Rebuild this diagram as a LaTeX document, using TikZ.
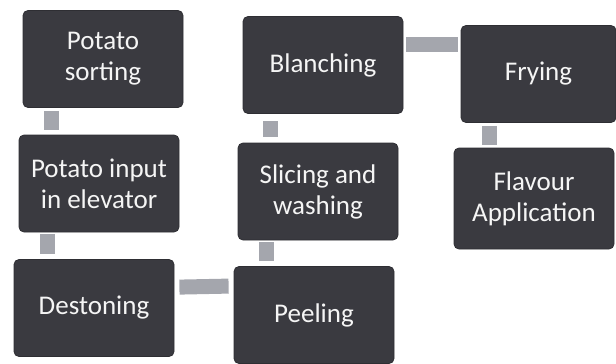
\documentclass[tikz,border=0pt]{standalone}
\usepackage{fontspec}
\setmainfont{Carlito}
\usepackage{tikz}
\usetikzlibrary{positioning}
\definecolor{boxgray}{HTML}{3A3A40}
\definecolor{bargray}{HTML}{A4A6AD}

\begin{document}
\begin{tikzpicture}[x=0.5pt, y=-0.5pt,
  box/.style={draw=boxgray!80!black, fill=boxgray, rounded corners=2.5pt,
              text=white!92!gray, align=center, inner sep=2pt,
              font=\fontsize{13.5}{15.5}\selectfont,
              minimum width=80pt, minimum height=48.5pt},
  bar/.style={draw=bargray, line width=7.5pt},
]
  \useasboundingbox (0,0) rectangle (616,364);
  % left column
  \node[box] (sort) at (103,59) {Potato\\ sorting};
  \node[box] (input) at (99,183.5) {Potato input\\ in elevator};
  \node[box] (dest) at (94,308) {Destoning};
  % middle column
  \node[box] (peel) at (314,315) {Peeling};
  \node[box] (slice) at (318,191.5) {Slicing and\\ washing};
  \node[box] (blanch) at (323,65) {Blanching};
  % right column
  \node[box, minimum width=77.5pt] (fry) at (538.5,74) {Frying};
  \node[box, minimum height=50.5pt] (flav) at (534,198.5) {Flavour\\ Application};
  % connectors
  \draw[bar] ([shift={(29,3)}]sort.south west) -- ([shift={(33,-5)}]input.north west);
  \draw[bar] ([shift={(29,2)}]input.south west) -- ([shift={(34,-5)}]dest.north west);
  \draw[bar] ([shift={(5,28)}]dest.north east) -- ([shift={(-5,20)}]peel.north west);
  \draw[bar] ([shift={(33,-5)}]peel.north west) -- ([shift={(29,2)}]slice.south west);
  \draw[bar] ([shift={(33,-6)}]slice.north west) -- ([shift={(28,7)}]blanch.south west);
  \draw[bar] ([shift={(3,28)}]blanch.north east) -- ([shift={(-3,19)}]fry.north west);
  \draw[bar] ([shift={(29,3)}]fry.south west) -- ([shift={(36,-3)}]flav.north west);
\end{tikzpicture}
\end{document}
